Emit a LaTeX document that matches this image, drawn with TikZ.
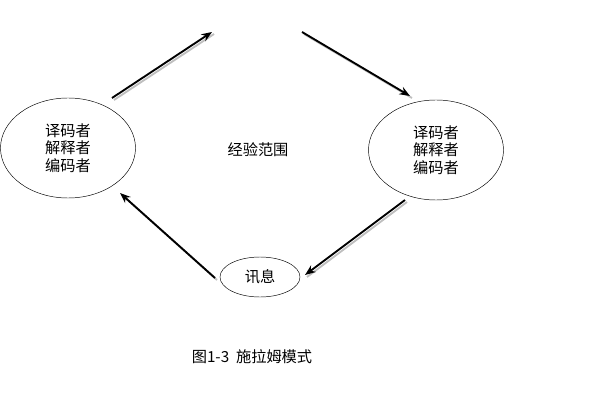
\documentclass[tikz,border=0pt]{standalone}
\usepackage{fontspec}
\setmainfont{Noto Sans CJK SC}
\usetikzlibrary{shapes.geometric,
                arrows.meta,
                positioning}

\begin{document}
\begin{tikzpicture}[x=0.03cm,y=-0.03cm,
    Person/.style={draw,ellipse,minimum width=4.05cm,minimum height=3cm,align=center,font=\fontsize{13}{15}\selectfont},
    Msg/.style={draw,ellipse,minimum width=2.4cm,minimum height=1.2cm,font=\fontsize{13}{15}\selectfont},
    Flow/.style={-{Stealth[length=9pt,width=7pt]},line width=1.6pt},
    Shade/.style={line width=1.6pt,gray!50}
    ]
    \useasboundingbox (0,0) rectangle (600,400);
    %people and message
    \node[Person] (Dec) at (68,148) {译码者\\解释者\\编码者};
    \node[Person] (Enc) at (436,150) {译码者\\解释者\\编码者};
    \node[Msg] (Msg) at (260,277) {讯息};
    \node[font=\fontsize{13}{15}\selectfont] (Field) at (258,150) {经验范围};
    \node[font=\fontsize{13}{15}\selectfont] (Cap) at (252,357) {图1-3\ \ 施拉姆模式};

    %connector ends
    \coordinate (A0) at (112,98);  \coordinate (A1) at (212,32);
    \coordinate (B0) at (302,32);  \coordinate (B1) at (410,96);
    \coordinate (C0) at (405,200); \coordinate (C1) at (305,275);
    \coordinate (D0) at (215,278); \coordinate (D1) at (120,193);

    \foreach \s/\e in {A0/A1, B0/B1, C0/C1, D0/D1} {
        \draw[Shade] ([shift={(2,2)}]\s) -- ([shift={(2,2)}]\e);
        \draw[Flow] (\s) -- (\e);
    }
\end{tikzpicture}
\end{document}
